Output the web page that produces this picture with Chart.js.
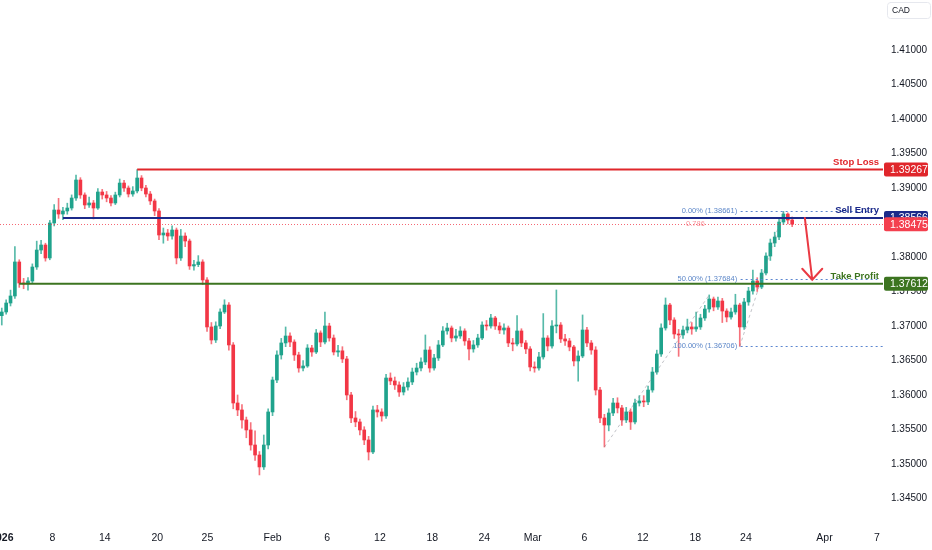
<!DOCTYPE html>
<html>
<head>
<meta charset="utf-8">
<script src="https://cdn.jsdelivr.net/npm/chart.js@4.4.1/dist/chart.umd.min.js"></script>
<style>
  html, body { margin: 0; padding: 0; background: #fff; }
  #wrap { width: 932px; height: 550px; position: relative; }
</style>
</head>
<body>
<div id="wrap"><canvas id="chart"></canvas></div>
<script>
// USDCAD 8H candles, one slot per third of a trading day (slot 0 = 2 Jan 2026)
const opens = [
  1.37150,1.37203,1.37333,1.37435,1.37928,1.37623,1.37609,1.37652,1.37855,1.38101,
  1.38174,1.37986,1.38493,1.38681,1.38623,1.38667,1.38710,1.38855,1.39116,1.38899,
  1.38754,1.38783,1.38710,1.38942,1.38899,1.38855,1.38783,1.38899,1.39072,1.39000,
  1.38913,1.38957,1.39145,1.39000,1.38913,1.38812,1.38667,1.38319,1.38348,1.38304,
  1.38391,1.37986,1.38304,1.38232,1.37870,1.37890,1.37928,1.37667,1.36986,1.36797,
  1.37000,1.37203,1.37304,1.36725,1.35884,1.35783,1.35638,1.35493,1.35275,1.35130,
  1.34957,1.35275,1.35754,1.36217,1.36580,1.36754,1.36855,1.36768,1.36580,1.36391,
  1.36420,1.36681,1.36623,1.36899,1.36768,1.37000,1.36826,1.36623,1.36640,1.36522,
  1.36000,1.35667,1.35609,1.35493,1.35348,1.35174,1.35783,1.35754,1.35696,1.36246,
  1.36203,1.36145,1.36043,1.36116,1.36188,1.36333,1.36391,1.36478,1.36652,1.36391,
  1.36536,1.36725,1.36928,1.36971,1.36826,1.36855,1.36928,1.36783,1.36667,1.36725,
  1.36826,1.37014,1.37000,1.37116,1.37000,1.36942,1.36971,1.36754,1.36739,1.36928,
  1.36754,1.36667,1.36406,1.36391,1.36551,1.36826,1.36710,1.37000,1.37014,1.36812,
  1.36783,1.36696,1.36493,1.36565,1.36942,1.36754,1.36652,1.36072,1.35667,1.35565,
  1.35739,1.35884,1.35812,1.35638,1.35754,1.35609,1.35884,1.35913,1.35899,1.36072,
  1.36333,1.36594,1.36971,1.37304,1.37087,1.36884,1.36870,1.36942,1.36986,1.36957,
  1.36986,1.37116,1.37246,1.37391,1.37275,1.37362,1.37217,1.37130,1.37203,1.37304,
  1.36986,1.37348,1.37507,1.37652,1.37565,1.37768,1.38014,1.38203,1.38290,1.38507,
  1.38623,1.38536
];
const highs = [
  1.37260,1.37380,1.37520,1.38150,1.37960,1.37690,1.37700,1.37900,1.38230,1.38240,
  1.38200,1.38530,1.38760,1.38850,1.38720,1.38780,1.38900,1.39188,1.39150,1.38930,
  1.38870,1.38820,1.38990,1.38980,1.38950,1.38890,1.38940,1.39130,1.39110,1.39030,
  1.39020,1.39267,1.39180,1.39040,1.38950,1.38840,1.38700,1.38420,1.38400,1.38450,
  1.38420,1.38400,1.38350,1.38260,1.37950,1.38020,1.37960,1.37700,1.37050,1.37060,
  1.37250,1.37380,1.37340,1.36760,1.36000,1.35860,1.35680,1.35600,1.35480,1.35180,
  1.35420,1.35800,1.36260,1.36640,1.36820,1.36986,1.36900,1.36800,1.36620,1.36500,
  1.36730,1.36720,1.36950,1.36930,1.37203,1.37040,1.36870,1.36720,1.36700,1.36560,
  1.36040,1.35760,1.35650,1.35540,1.35400,1.35840,1.35850,1.35800,1.36300,1.36320,
  1.36260,1.36190,1.36180,1.36250,1.36390,1.36460,1.36540,1.36870,1.36700,1.36590,
  1.36790,1.36990,1.37040,1.37000,1.36950,1.36990,1.36960,1.36820,1.36790,1.36880,
  1.37060,1.37080,1.37170,1.37140,1.37050,1.37030,1.37000,1.36820,1.37150,1.36960,
  1.36790,1.36700,1.36480,1.36620,1.37180,1.36860,1.37080,1.37522,1.37050,1.36880,
  1.36820,1.36720,1.36640,1.37160,1.36980,1.36790,1.36700,1.36110,1.35720,1.35800,
  1.35950,1.35960,1.35850,1.35820,1.35800,1.35940,1.35990,1.35990,1.36130,1.36400,
  1.36650,1.37030,1.37406,1.37330,1.37120,1.36950,1.37000,1.37100,1.37050,1.37200,
  1.37170,1.37300,1.37450,1.37420,1.37420,1.37400,1.37250,1.37260,1.37460,1.37330,
  1.37400,1.37560,1.37810,1.37700,1.37820,1.38060,1.38260,1.38360,1.38560,1.38661,
  1.38640,1.38580
];
const lows = [
  1.37014,1.37170,1.37290,1.37400,1.37560,1.37540,1.37520,1.37620,1.37820,1.38050,
  1.37940,1.37960,1.38450,1.38560,1.38540,1.38620,1.38680,1.38820,1.38850,1.38700,
  1.38720,1.38551,1.38690,1.38840,1.38800,1.38740,1.38760,1.38870,1.38950,1.38870,
  1.38880,1.38930,1.38960,1.38870,1.38760,1.38600,1.38250,1.38200,1.38240,1.38260,
  1.37900,1.37950,1.38150,1.37820,1.37810,1.37860,1.37600,1.36920,1.36740,1.36760,
  1.36960,1.37180,1.36650,1.35800,1.35700,1.35520,1.35380,1.35200,1.35050,1.34841,
  1.34920,1.35220,1.35700,1.36180,1.36520,1.36700,1.36700,1.36500,1.36330,1.36350,
  1.36400,1.36560,1.36600,1.36700,1.36740,1.36780,1.36580,1.36560,1.36470,1.35930,
  1.35600,1.35540,1.35420,1.35280,1.35058,1.35150,1.35680,1.35620,1.35660,1.36150,
  1.36080,1.35980,1.36000,1.36070,1.36150,1.36290,1.36350,1.36440,1.36330,1.36360,
  1.36500,1.36700,1.36880,1.36770,1.36780,1.36820,1.36720,1.36510,1.36620,1.36690,
  1.36800,1.36940,1.36970,1.36950,1.36890,1.36880,1.36700,1.36640,1.36710,1.36700,
  1.36600,1.36350,1.36330,1.36360,1.36520,1.36640,1.36680,1.36900,1.36760,1.36720,
  1.36640,1.36420,1.36200,1.36540,1.36700,1.36590,1.36000,1.35600,1.35246,1.35480,
  1.35700,1.35740,1.35560,1.35600,1.35500,1.35580,1.35840,1.35830,1.35860,1.36040,
  1.36300,1.36560,1.36940,1.37020,1.36820,1.36560,1.36820,1.36900,1.36880,1.36920,
  1.36950,1.37080,1.37200,1.37220,1.37240,1.37050,1.37060,1.37100,1.37170,1.36706,
  1.36950,1.37300,1.37460,1.37500,1.37540,1.37740,1.37950,1.38150,1.38250,1.38470,
  1.38480,1.38440
];
const closes = [
  1.37203,1.37333,1.37435,1.37928,1.37623,1.37609,1.37652,1.37855,1.38101,1.38174,
  1.37986,1.38493,1.38681,1.38623,1.38667,1.38710,1.38855,1.39116,1.38899,1.38754,
  1.38783,1.38710,1.38942,1.38899,1.38855,1.38783,1.38899,1.39072,1.39000,1.38913,
  1.38957,1.39145,1.39000,1.38913,1.38812,1.38667,1.38319,1.38348,1.38304,1.38391,
  1.37986,1.38304,1.38232,1.37870,1.37890,1.37928,1.37667,1.36986,1.36797,1.37000,
  1.37203,1.37304,1.36725,1.35884,1.35783,1.35638,1.35493,1.35275,1.35130,1.34957,
  1.35275,1.35754,1.36217,1.36580,1.36754,1.36855,1.36768,1.36580,1.36391,1.36420,
  1.36681,1.36623,1.36899,1.36768,1.37000,1.36826,1.36623,1.36640,1.36522,1.36000,
  1.35667,1.35609,1.35493,1.35348,1.35174,1.35783,1.35754,1.35696,1.36246,1.36203,
  1.36145,1.36043,1.36116,1.36188,1.36333,1.36391,1.36478,1.36652,1.36391,1.36536,
  1.36725,1.36928,1.36971,1.36826,1.36855,1.36928,1.36783,1.36667,1.36725,1.36826,
  1.37014,1.37000,1.37116,1.37000,1.36942,1.36971,1.36754,1.36739,1.36928,1.36754,
  1.36667,1.36406,1.36391,1.36551,1.36826,1.36710,1.37000,1.37014,1.36812,1.36783,
  1.36696,1.36493,1.36565,1.36942,1.36754,1.36652,1.36072,1.35667,1.35565,1.35739,
  1.35884,1.35812,1.35638,1.35754,1.35609,1.35884,1.35913,1.35899,1.36072,1.36333,
  1.36594,1.36971,1.37304,1.37087,1.36884,1.36870,1.36942,1.36986,1.36957,1.36986,
  1.37116,1.37246,1.37391,1.37275,1.37362,1.37217,1.37130,1.37203,1.37304,1.36986,
  1.37348,1.37507,1.37652,1.37565,1.37768,1.38014,1.38203,1.38290,1.38507,1.38623,
  1.38536,1.38475
];

// time axis
const dateTickSlots  = [0, 11.6, 23.6, 35.6, 47.1, 62.0, 74.5, 86.6, 98.6, 110.5, 121.6, 133.4, 146.8, 158.8, 170.4, 188.4, 200.4];
const dateTickLabels = ['2026', '8', '14', '20', '25', 'Feb', '6', '12', '18', '24', 'Mar', '6', '12', '18', '24', 'Apr', '7'];

// price axis
const priceTicks = [1.345, 1.350, 1.355, 1.360, 1.365, 1.370, 1.375, 1.380, 1.385, 1.390, 1.395, 1.400, 1.405, 1.410];

// trade levels
const levelNames  = ['Stop Loss', 'Sell Entry', 'Take Profit'];
const levelPrices = [1.39267, 1.38566, 1.37612];
const levelStart  = [31, 14, 4];

// fibonacci retracement
const fibNames  = ['0.00% (1.38661)', '50.00% (1.37684)', '100.00% (1.36706)'];
const fibPrices = [1.38661, 1.37684, 1.36706];

// drawn dashed guides: [slot, price] -> [slot, price]
const guideLines = [
  [[138, 1.35246], [162, 1.37450]],
  [[169, 1.36706], [179, 1.38661]]
];
const arrowFrom = [183.9, 1.38566];
const arrowTo   = [185.6, 1.37670];

const UP = '#1fa38c', DOWN = '#f23645';
const FONT = '"Liberation Sans", Arial, sans-serif';

const isUp = closes.map((c, i) => c >= opens[i]);

const overlay = {
  id: 'overlay',
  afterDatasetsDraw(chart) {
    const { ctx, chartArea: a, scales: { x, y } } = chart;
    const X = v => x.getPixelForValue(v);
    const Y = v => y.getPixelForValue(v);
    const last = closes[closes.length - 1];
    ctx.save();

    // current price line
    ctx.strokeStyle = 'rgba(242,54,69,0.75)';
    ctx.lineWidth = 1;
    ctx.setLineDash([1, 2]);
    ctx.beginPath();
    ctx.moveTo(a.left, Math.round(Y(last)) + 0.5);
    ctx.lineTo(a.right, Math.round(Y(last)) + 0.5);
    ctx.stroke();

    // fib levels
    ctx.strokeStyle = '#5b86d0';
    ctx.setLineDash([2, 3]);
    fibPrices.forEach((p, i) => {
      const yy = Math.round(Y(p)) + 0.5;
      ctx.beginPath();
      ctx.moveTo(X(169.2), yy);
      ctx.lineTo(i === 2 ? a.right : X(200.5), yy);
      ctx.stroke();
    });
    ctx.setLineDash([]);
    ctx.font = '7.5px ' + FONT;
    ctx.textAlign = 'right';
    ctx.textBaseline = 'middle';
    ctx.fillStyle = '#5b86c8';
    fibPrices.forEach((p, i) => ctx.fillText(fibNames[i], X(168.4), Y(p)));
    ctx.fillStyle = 'rgba(242,54,69,0.55)';
    ctx.fillText('0.786', X(161), Y(last));

    // dashed guides
    ctx.strokeStyle = 'rgba(120,123,134,0.45)';
    ctx.setLineDash([3, 3]);
    guideLines.forEach(([p0, p1]) => {
      ctx.beginPath();
      ctx.moveTo(X(p0[0]), Y(p0[1]));
      ctx.lineTo(X(p1[0]), Y(p1[1]));
      ctx.stroke();
    });
    ctx.setLineDash([]);

    // trade levels
    const lvlColors = ['#e0262b', '#1b2a8a', '#3c7420'];
    levelPrices.forEach((p, i) => {
      const yy = Y(p);
      ctx.strokeStyle = lvlColors[i];
      ctx.lineWidth = 2;
      ctx.beginPath();
      ctx.moveTo(X(levelStart[i]), yy);
      ctx.lineTo(a.right, yy);
      ctx.stroke();
      ctx.fillStyle = lvlColors[i];
      ctx.font = 'bold 9.5px ' + FONT;
      ctx.textAlign = 'right';
      ctx.textBaseline = 'middle';
      ctx.fillText(levelNames[i], a.right - 4, yy - 7.5);
    });

    // arrow
    const ax0 = X(arrowFrom[0]), ay0 = Y(arrowFrom[1]);
    const ax1 = X(arrowTo[0]), ay1 = Y(arrowTo[1]);
    ctx.strokeStyle = '#ea3943';
    ctx.lineWidth = 2;
    ctx.lineCap = 'round';
    ctx.beginPath();
    ctx.moveTo(ax0, ay0);
    ctx.lineTo(ax1, ay1);
    ctx.moveTo(ax1 - 10, ay1 - 11);
    ctx.lineTo(ax1, ay1);
    ctx.lineTo(ax1 + 10, ay1 - 11);
    ctx.stroke();

    // price axis tags
    const tag = (p, bg) => {
      const yy = Y(p);
      ctx.fillStyle = bg;
      ctx.beginPath();
      ctx.roundRect(a.right + 1, yy - 7, 44, 14, 2);
      ctx.fill();
      ctx.fillStyle = '#fff';
      ctx.font = '10.5px ' + FONT;
      ctx.textAlign = 'left';
      ctx.textBaseline = 'middle';
      ctx.fillText(p.toFixed(5), a.right + 7, yy + 0.5);
    };
    tag(levelPrices[0], '#e0262b');
    tag(levelPrices[1], '#1b2a8a');
    tag(last, '#f4404f');
    tag(levelPrices[2], '#3c7420');

    // currency
    ctx.strokeStyle = '#e6e8ee';
    ctx.lineWidth = 1;
    ctx.beginPath();
    ctx.roundRect(a.right + 4.5, 2.5, 43, 16, 3);
    ctx.stroke();
    ctx.fillStyle = '#131722';
    ctx.font = '8.5px ' + FONT;
    ctx.textAlign = 'left';
    ctx.textBaseline = 'middle';
    ctx.fillText('CAD', a.right + 9, 11);
    ctx.restore();
  }
};

new Chart(document.getElementById('chart'), {
  type: 'bar',
  data: {
    datasets: [
      {
        label: 'wick',
        data: closes.map((c, i) => ({ x: i, y: [lows[i], highs[i]] })),
        backgroundColor: isUp.map(u => u ? 'rgba(31,163,140,0.75)' : 'rgba(242,54,69,0.7)'),
        barThickness: 1,
        grouped: false,
        minBarLength: 1,
        order: 2
      },
      {
        label: 'body',
        data: closes.map((c, i) => ({ x: i, y: [opens[i], c] })),
        backgroundColor: isUp.map(u => u ? UP : DOWN),
        barThickness: 3,
        grouped: false,
        minBarLength: 1,
        order: 1
      }
    ]
  },
  options: {
    responsive: true,
    maintainAspectRatio: false,
    animation: false,
    layout: { padding: 0 },
    plugins: {
      legend: { display: false },
      tooltip: { enabled: false }
    },
    scales: {
      x: {
        type: 'linear',
        min: -0.41,
        max: 201.8,
        offset: false,
        grid: { display: false, drawTicks: false },
        border: { display: false },
        afterBuildTicks: s => { s.ticks = dateTickSlots.map(v => ({ value: v })); },
        afterFit: s => { s.height = 28; s.paddingLeft = 0; s.paddingRight = 0; },
        ticks: {
          autoSkip: false,
          maxRotation: 0,
          padding: 10,
          color: '#131722',
          font: c => ({ family: FONT, size: 10.5, weight: c.index === 0 ? 'bold' : 'normal' }),
          callback: (v, i) => dateTickLabels[i]
        }
      },
      y: {
        position: 'right',
        min: 1.34159,
        max: 1.41725,
        grid: { display: false, drawTicks: false },
        border: { display: false },
        afterBuildTicks: s => { s.ticks = priceTicks.map(v => ({ value: v })); },
        afterFit: s => { s.width = 49; s.paddingTop = 0; s.paddingBottom = 0; },
        ticks: {
          padding: 8,
          color: '#131722',
          font: { family: FONT, size: 10 },
          callback: v => v.toFixed(5)
        }
      }
    }
  },
  plugins: [overlay]
});
</script>
</body>
</html>
